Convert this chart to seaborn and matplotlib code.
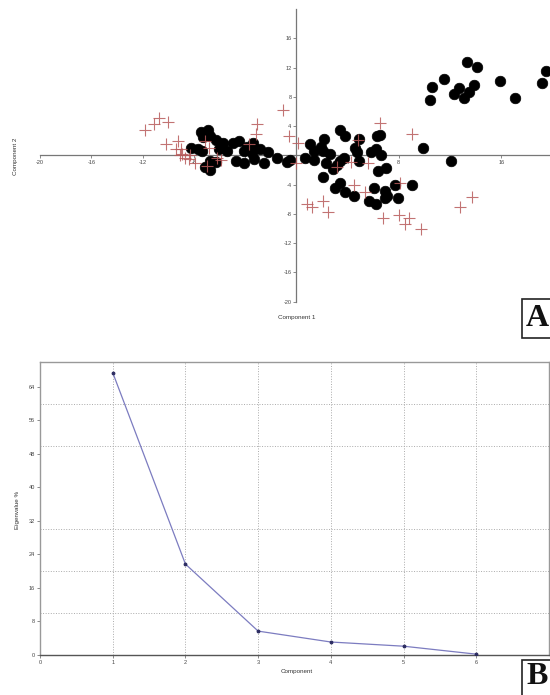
import numpy as np
import matplotlib
matplotlib.use("Agg")
import matplotlib.pyplot as plt
from matplotlib.ticker import MultipleLocator
from matplotlib.patches import Rectangle
import seaborn as sns
import pandas as pd

# ---------------------------------------------------
# Panel A data: scores on components 1 and 2
# ---------------------------------------------------
dots_x = [13.3, 14.1, 11.5, 10.6, 10.4, 12.7, 12.3, 13.9, 13.5, 13.1, 15.9, 17.1, 19.5, 19.2,
          9.9, 12.1,
          -1.5, -0.7, -0.5, 0.7, 1.4, 1.1, 1.35, 2.2, 1.9, 2.1, 2.6, 2.3, 2.05, 3.4, 3.8, 3.7,
          3.4, 3.2, 2.9, 4.9, 4.6, 4.7, 4.9, 5.8, 6.2, 6.3, 6.55, 6.6, 6.4, 7.0, 3.0, 3.4,
          3.8, 4.5, 5.7, 6.2, 6.1, 6.9, 7.1, 6.9, 7.7, 7.9, 9.0,
          -8.2, -7.7, -7.35, -7.4, -6.9, -7.3, -6.7, -6.3, -6.75, -6.3, -7.1, -6.7, -6.05,
          -5.7, -5.4, -4.9, -4.5, -4.7, -4.1, -3.85, -4.05, -3.4, -3.3, -3.45, -3.3, -2.8,
          -2.55, -2.2]
dots_y = [12.7, 12.1, 10.5, 9.4, 7.6, 9.2, 8.4, 9.6, 8.7, 7.9, 10.1, 7.8, 11.5, 9.9,
          1.0, -0.8,
          -0.4, -0.9, -0.7, -0.3, -0.6, 1.5, 0.6, 2.3, 1.2, 0.6, 0.2, -1.0, -3.0, 3.4, 2.7, -0.3,
          -0.8, -1.3, -1.9, 2.3, 1.0, 0.5, -0.8, 0.5, 0.9, 2.6, 2.8, 0.05, -2.1, -1.7, -4.4, -3.8,
          -5.0, -5.6, -6.3, -6.6, -4.4, -4.9, -5.5, -5.8, -4.1, -5.8, -4.1,
          1.0, 0.8, 0.55, 3.2, 3.4, 2.5, 2.6, 2.05, -0.8, -0.9, -1.6, -1.95, 0.9,
          1.7, 0.55, 1.7, 2.0, -0.8, -1.0, 1.2, 0.55, 1.7, 1.0, 0.3, -0.5, 0.8,
          -1.0, 0.4]

plus_x = [-11.8, -11.1, -10.7, -10.0, -10.2, -9.25, -9.4, -9.0, -8.9, -8.7, -8.4, -7.9, -8.3,
          -9.1, -7.0, -7.1, -6.8, -5.9, -6.2, -3.7, -3.1, -3.15, -1.0, -0.6, 0.1, 0.0, 6.5, 9.0,
          4.3, 5.6, 4.8, 3.2, 4.5, 5.4, 8.1, 0.8, 1.2, 2.05, 2.5, 6.8, 8.0, 8.8, 8.45, 9.7,
          12.8, 13.7]
plus_y = [3.4, 4.3, 5.1, 4.6, 1.6, 1.9, 0.9, 0.8, 0.2, -0.4, -0.45, -1.0, 0.1,
          0.0, -1.5, 1.9, 1.0, -0.6, -0.3, 1.5, 4.3, 2.9, 6.2, 2.7, 1.7, -1.05, 4.4, 2.9,
          -0.95, -1.0, 2.1, -1.6, -4.0, -5.0, -3.8, -6.7, -7.0, -6.3, -7.7, -8.5, -8.1, -8.5, -9.45, -10.1,
          -7.0, -5.7]

# ---------------------------------------------------
# Panel B data: scree plot
# ---------------------------------------------------
components = [1, 2, 3, 4, 5, 6]
eigen_pct = [67.4, 21.7, 5.7, 3.1, 2.1, 0.2]

sns.set_style("white")
plt.rcParams['font.family'] = ['Liberation Sans', 'DejaVu Sans']

W, H = 550, 695
fig = plt.figure(figsize=(5.5, 6.95), dpi=100)

# ---------------------------------------------------
# Panel A
# ---------------------------------------------------
ax1 = fig.add_axes([40 / W, 0.566, 1 - 40 / W, 0.421])
df_dots = pd.DataFrame({"x": dots_x, "y": dots_y})
df_plus = pd.DataFrame({"x": plus_x, "y": plus_y})
sns.scatterplot(data=df_dots, x="x", y="y", ax=ax1, color="black", s=58,
                edgecolor="black", linewidth=0.5, zorder=3, clip_on=False)
sns.scatterplot(data=df_plus, x="x", y="y", ax=ax1, marker="+", color="#b85a5a",
                s=70, linewidth=0.8, alpha=0.85, zorder=4, clip_on=False)

ax1.set_xlim(-20, 19.8)
ax1.set_ylim(-20, 20)
for side in ["top", "right"]:
    ax1.spines[side].set_visible(False)
for side in ["left", "bottom"]:
    ax1.spines[side].set_position("zero")
    ax1.spines[side].set_color("#777777")
    ax1.spines[side].set_linewidth(0.9)
ticks = [-20, -16, -12, -8, -4, 4, 8, 12, 16]
ax1.set_xticks(ticks)
ax1.set_yticks(ticks)
ax1.set_xticklabels([str(t) for t in ticks])
ax1.set_yticklabels([str(t) for t in ticks])
ax1.tick_params(axis="both", direction="out", length=2, width=0.6, color="#777777",
                labelsize=4, labelcolor="#444444", pad=1.5)
ax1.tick_params(axis="x", bottom=True)
ax1.tick_params(axis="y", left=True)
ax1.set_xlabel("")
ax1.set_ylabel("")
fig.text(278 / W, 1 - 318 / H, "Component 1", fontsize=4.5, color="#333333",
         ha="left", va="center")
fig.text(15 / W, 1 - 156 / H, "Component 2", fontsize=4.5, color="#333333",
         rotation=90, ha="center", va="center")

# ---------------------------------------------------
# Panel B
# ---------------------------------------------------
ax2 = fig.add_axes([40 / W, 40 / H, 509 / W, 293.3 / H])
df_scree = pd.DataFrame({"component": components, "eigen": eigen_pct})
sns.lineplot(data=df_scree, x="component", y="eigen", ax=ax2, color="#7c7cc0",
             linewidth=0.9, marker="o", markersize=2, markeredgecolor="#2a2a60",
             markerfacecolor="#2a2a60", zorder=3)
ax2.set_xlim(0, 7)
ax2.set_ylim(0, 70)
ax2.set_xticks([0, 1, 2, 3, 4, 5, 6])
ax2.set_yticks([0, 8, 16, 24, 32, 40, 48, 56, 64])
ax2.yaxis.set_minor_locator(MultipleLocator(10))
ax2.grid(which="major", axis="x", linestyle=":", linewidth=0.7, color="#aaaaaa")
ax2.grid(which="minor", axis="y", linestyle=":", linewidth=0.7, color="#aaaaaa")
ax2.grid(which="major", axis="y", visible=False)
ax2.tick_params(axis="both", which="major", direction="out", length=2, width=0.6,
                color="#777777", labelsize=4, labelcolor="#444444", pad=1.5,
                bottom=True, left=True)
ax2.tick_params(axis="y", which="minor", length=0)
for side in ["top", "left", "right"]:
    ax2.spines[side].set_color("#999999")
    ax2.spines[side].set_linewidth(1.0)
ax2.spines["bottom"].set_color("#555555")
ax2.spines["bottom"].set_linewidth(1.0)
ax2.set_xlabel("")
ax2.set_ylabel("")
fig.text(281 / W, 1 - 671 / H, "Component", fontsize=4.5, color="#333333",
         ha="left", va="center")
fig.text(17 / W, 1 - 510 / H, "Eigenvalue %", fontsize=4.5, color="#333333",
         rotation=90, ha="center", va="center")

# ---------------------------------------------------
# Panel letters (boxes run off the right edge, like the original)
# ---------------------------------------------------
for letter, box_top, box_bot, yc in [("A", 299, 338, 318), ("B", 660, 700, 676.5)]:
    fig.patches.append(Rectangle((521.7 / W, 1 - box_bot / H), 40 / W,
                                 (box_bot - box_top) / H, transform=fig.transFigure,
                                 facecolor="white", edgecolor="#222222", linewidth=1.2,
                                 zorder=5))
    fig.text(537 / W, 1 - yc / H, letter, fontsize=23, fontweight="bold",
             family=["Liberation Serif", "DejaVu Serif"], ha="center", va="center",
             color="#111111", zorder=6)

fig.savefig("out.png", dpi=100)
